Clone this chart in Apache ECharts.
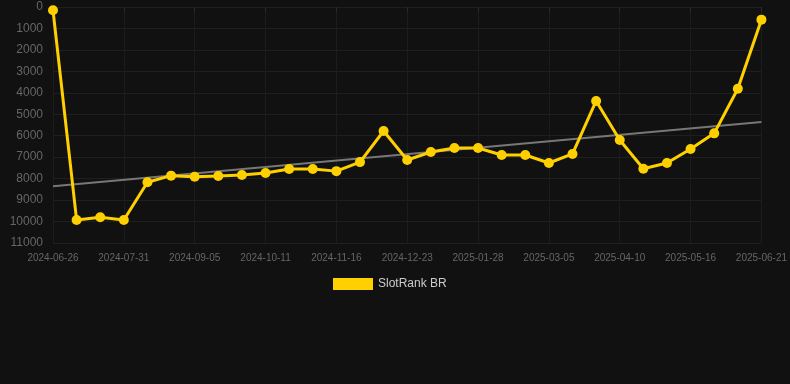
<!DOCTYPE html>
<html><head><meta charset="utf-8">
<script src="https://cdn.jsdelivr.net/npm/echarts@6/dist/echarts.min.js"></script>
<style>html,body{margin:0;padding:0;background:#111111;}#c{width:790px;height:384px;}</style>
</head><body><div id="c"></div>
<script>
const categories = ["2024-06-26","2024-07-08","2024-07-19","2024-07-31","2024-08-12","2024-08-24","2024-09-05","2024-09-17","2024-09-29","2024-10-11","2024-10-23","2024-11-04","2024-11-16","2024-11-28","2024-12-11","2024-12-23","2025-01-04","2025-01-16","2025-01-28","2025-02-09","2025-02-21","2025-03-05","2025-03-17","2025-03-29","2025-04-10","2025-04-22","2025-05-04","2025-05-16","2025-05-28","2025-06-09","2025-06-21"];
const rankValues = [150,9930,9800,9930,8170,7860,7910,7880,7830,7740,7550,7550,7650,7230,5780,7130,6760,6570,6570,6900,6900,7270,6850,4380,6200,7540,7270,6620,5890,3810,590];
const trendStart = 8350;
const trendEnd = 5360;
const seriesName = "SlotRank BR";

const trendData = categories.map((c, i) => i === 0 ? trendStart : (i === categories.length - 1 ? trendEnd : null));

const chart = echarts.init(document.getElementById('c'));
chart.setOption({
  backgroundColor: '#111111',
  animation: false,
  grid: { left: 53, right: 28, top: 7, bottom: 141 },
  legend: {
    data: [seriesName],
    top: 273, left: 328,
    itemWidth: 40, itemHeight: 12, itemGap: 10,
    icon: 'rect',
    textStyle: { color: '#cccccc', fontSize: 12 }
  },
  xAxis: {
    type: 'category', data: categories, boundaryGap: false,
    axisLine: { show: false },
    axisTick: { show: true, interval: 2, lineStyle: { color: '#2a2a2a' } },
    axisLabel: { interval: 2, color: '#666666', fontSize: 10, margin: 10 },
    splitLine: { show: true, interval: 2, lineStyle: { color: '#1c1c1c' } }
  },
  yAxis: {
    type: 'value', inverse: true, min: 0, max: 11000, interval: 1000,
    axisLine: { show: false }, axisTick: { show: false },
    axisLabel: { color: '#666666', fontSize: 12, margin: 10, formatter: v => String(v) },
    splitLine: { lineStyle: { color: '#1f1f1f' } }
  },
  series: [
    {
      name: seriesName, type: 'line', data: rankValues,
      itemStyle: { color: '#ffd000' },
      lineStyle: { color: '#ffd000', width: 3 },
      symbol: 'circle', symbolSize: 10, z: 3
    },
    {
      name: 'trend', type: 'line', data: trendData, connectNulls: true,
      symbol: 'none', lineStyle: { color: '#777777', width: 2 },
      itemStyle: { color: '#777777' }, z: 2, silent: true
    }
  ]
});
</script></body></html>
